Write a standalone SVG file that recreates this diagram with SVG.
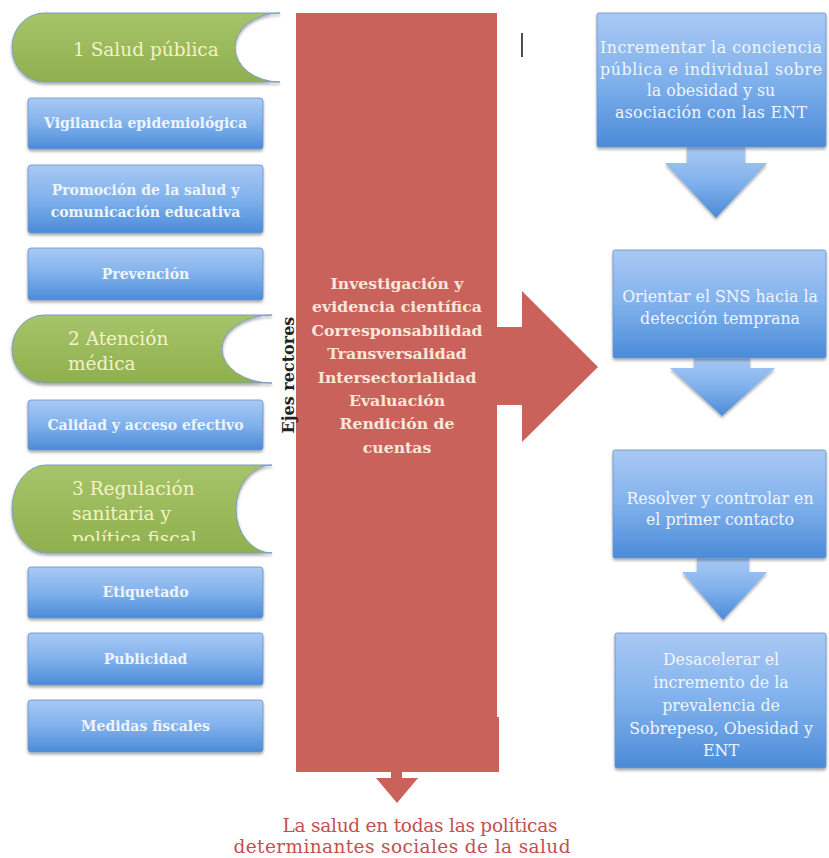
<svg xmlns="http://www.w3.org/2000/svg" width="829" height="858" viewBox="0 0 829 858">
<defs>
<linearGradient id="gBlue" x1="0" y1="0" x2="0" y2="1">
<stop offset="0" stop-color="#a9c9f4"/>
<stop offset="0.5" stop-color="#80b1ec"/>
<stop offset="1" stop-color="#4b8bd8"/>
</linearGradient>
<linearGradient id="gGreen" x1="0" y1="0" x2="0" y2="1">
<stop offset="0" stop-color="#a6c46a"/>
<stop offset="1" stop-color="#8fb04e"/>
</linearGradient>
<filter id="sh" x="-10%" y="-10%" width="120%" height="130%">
<feDropShadow dx="0" dy="2" stdDeviation="1.5" flood-color="#000" flood-opacity="0.35"/>
</filter>
<clipPath id="clip3"><rect x="0" y="460" width="300" height="81"/></clipPath>
</defs>
<style>
.box{fill:url(#gBlue);stroke:#6b92c6;stroke-width:0.8;filter:url(#sh)}
.arr{fill:url(#gBlue);filter:url(#sh)}
.grn{fill:url(#gGreen);stroke:#7f9cc0;stroke-width:1;filter:url(#sh)}
.lt{font-family:"DejaVu Serif","Liberation Serif",serif;font-weight:bold;font-size:14px;fill:#eef4fd;text-anchor:middle}
.gt{font-family:"DejaVu Serif","Liberation Serif",serif;font-size:18.5px;fill:#f4f2c6}
.rt{font-family:"DejaVu Serif","Liberation Serif",serif;font-size:15.8px;fill:#f0f5fd;text-anchor:middle}
.red{font-family:"DejaVu Serif","Liberation Serif",serif;font-weight:bold;font-size:15.7px;fill:#fbe6da;text-anchor:middle}
.bt{font-family:"DejaVu Serif","Liberation Serif",serif;font-size:18.5px;fill:#c3504f;text-anchor:middle}
.ej{font-family:"DejaVu Serif","Liberation Serif",serif;font-weight:bold;font-size:16px;fill:#222;text-anchor:middle}
</style>
<rect width="829" height="858" fill="#fff"/>

<g id="connectors">
<path id="red-axis" d="M296,13 H497 V327 H522 V291 L598,367 L522,442 V405 H497 V717 H499 V772 H402 V778 H418 L397,803 L376,778 H391 V772 H296 Z" fill="#c8625b"/>
<path id="arrow1" class="arr" d="M687,147 H745 V163 H767 L716,218 L665,163 H687 Z"/>
<path id="arrow2" class="arr" d="M694,358 H750 V368 H775 L722,416 L670,368 H694 Z"/>
<path id="arrow3" class="arr" d="M697,558 H749 V572 H767 L723,620 L682,572 H697 Z"/>
<line x1="522" y1="33" x2="522" y2="57" stroke="#222" stroke-width="1.6"/>
</g>

<g id="ejes">
<text class="red" x="397" y="289">Investigación y</text>
<text class="red" x="397" y="312.4">evidencia científica</text>
<text class="red" x="397" y="335.8">Corresponsabilidad</text>
<text class="red" x="397" y="359.2">Transversalidad</text>
<text class="red" x="397" y="382.6">Intersectorialidad</text>
<text class="red" x="397" y="406">Evaluación</text>
<text class="red" x="397" y="429.4">Rendición de</text>
<text class="red" x="397" y="452.8">cuentas</text>
<text class="ej" transform="translate(294,375) rotate(-90)">Ejes rectores</text>
</g>

<g id="salud-publica">
<path class="grn" d="M44,13 H280 A45,34.5 0 0 0 280,82 H44 A32,34.5 0 0 1 44,13 Z"/>
<text class="gt" x="73" y="56">1 Salud pública</text>
</g>
<g id="vigilancia">
<rect class="box" x="28" y="98" width="235" height="51" rx="3"/>
<text class="lt" x="145.5" y="128">Vigilancia epidemiológica</text>
</g>
<g id="promocion">
<rect class="box" x="28" y="165" width="235" height="68" rx="3"/>
<text class="lt" x="145.5" y="195">Promoción de la salud y</text>
<text class="lt" x="145.5" y="217">comunicación educativa</text>
</g>
<g id="prevencion">
<rect class="box" x="28" y="248" width="235" height="52" rx="3"/>
<text class="lt" x="145.5" y="279">Prevención</text>
</g>
<g id="atencion-medica">
<path class="grn" d="M44,315 H272 A50,34 0 0 0 272,383 H44 A32,34 0 0 1 44,315 Z"/>
<text class="gt" x="68" y="345">2 Atención</text>
<text class="gt" x="68" y="370">médica</text>
</g>
<g id="calidad">
<rect class="box" x="28" y="400" width="235" height="50" rx="3"/>
<text class="lt" x="145.5" y="430">Calidad y acceso efectivo</text>
</g>
<g id="regulacion">
<path class="grn" d="M46,465 H272 A36,44 0 0 0 272,553 H46 A34,44 0 0 1 46,465 Z"/>
<g clip-path="url(#clip3)">
<text class="gt" x="72" y="495">3 Regulación</text>
<text class="gt" x="72" y="520">sanitaria y</text>
<text class="gt" x="72" y="545">política fiscal</text>
</g>
</g>
<g id="etiquetado">
<rect class="box" x="28" y="567" width="235" height="51" rx="3"/>
<text class="lt" x="145.5" y="597">Etiquetado</text>
</g>
<g id="publicidad">
<rect class="box" x="28" y="633" width="235" height="52" rx="3"/>
<text class="lt" x="145.5" y="664">Publicidad</text>
</g>
<g id="medidas">
<rect class="box" x="28" y="700" width="235" height="52" rx="3"/>
<text class="lt" x="145.5" y="731">Medidas fiscales</text>
</g>

<g id="meta1">
<rect class="box" x="597" y="13" width="229" height="134" rx="2"/>
<text class="rt" x="711" y="53" textLength="222">Incrementar la conciencia</text>
<text class="rt" x="711" y="74.5" textLength="222">pública e individual sobre</text>
<text class="rt" x="711" y="96">la obesidad y su</text>
<text class="rt" x="711" y="117.5" textLength="192">asociación con las ENT</text>
</g>
<g id="meta2">
<rect class="box" x="613" y="250" width="213" height="108" rx="2"/>
<text class="rt" x="720" y="302">Orientar el SNS hacia la</text>
<text class="rt" x="720" y="324">detección temprana</text>
</g>
<g id="meta3">
<rect class="box" x="613" y="450" width="213" height="108" rx="2"/>
<text class="rt" x="720" y="504">Resolver y controlar en</text>
<text class="rt" x="720" y="525">el primer contacto</text>
</g>
<g id="meta4">
<rect class="box" x="615" y="633" width="211" height="135" rx="2"/>
<text class="rt" x="721" y="665">Desacelerar el</text>
<text class="rt" x="721" y="688">incremento de la</text>
<text class="rt" x="721" y="711">prevalencia de</text>
<text class="rt" x="721" y="734">Sobrepeso, Obesidad y</text>
<text class="rt" x="721" y="756">ENT</text>
</g>

<g id="salud-todas">
<text class="bt" x="420" y="832" textLength="275">La salud en todas las políticas</text>
<text class="bt" x="402" y="853" textLength="337">determinantes sociales de la salud</text>
</g>
</svg>
